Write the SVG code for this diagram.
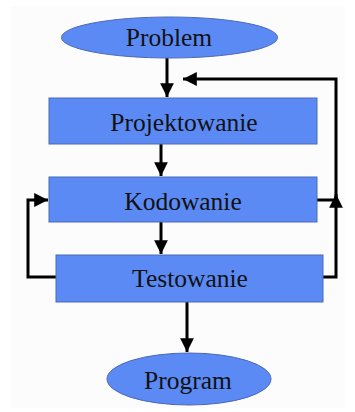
<svg xmlns="http://www.w3.org/2000/svg" width="355" height="412" viewBox="0 0 355 412">
<style>
.n{fill:#5b8af5;stroke:#4a68b5;stroke-width:1}
.t{font-family:"Liberation Serif","Times New Roman",serif;font-size:25.5px;fill:#111;text-anchor:middle}
.c{fill:none;stroke:#000;stroke-width:3}
</style>
<defs>
<marker id="ah" viewBox="0 0 10 10" refX="10" refY="5" markerWidth="4.6" markerHeight="5" markerUnits="strokeWidth" orient="auto">
<path d="M0,0 L10,5 L0,10 Z" fill="#000"/>
</marker>
</defs>
<rect x="0" y="0" width="355" height="412" fill="#fff"/>
<rect x="10" y="6" width="335" height="402" fill="#fcfcfc"/>
<g id="connectors">
<line class="c" x1="167" y1="58" x2="167" y2="97" marker-end="url(#ah)"/>
<polyline class="c" points="336,200 336,79 183,79" marker-end="url(#ah)"/>
<line class="c" x1="161" y1="144" x2="161" y2="176" marker-end="url(#ah)"/>
<line class="c" x1="161" y1="222" x2="161" y2="254" marker-end="url(#ah)"/>
<polyline class="c" points="56,277 28,277 28,200 48,200" marker-end="url(#ah)"/>
<line class="c" x1="317" y1="200" x2="336" y2="200"/>
<polyline class="c" points="323,277 336,277 336,194" marker-end="url(#ah)"/>
<line class="c" x1="187" y1="302" x2="187" y2="352" marker-end="url(#ah)"/>
</g>
<g id="problem">
<ellipse class="n" cx="169.5" cy="37.5" rx="108" ry="20.5"/>
<text class="t" x="169" y="46">Problem</text>
</g>
<g id="projektowanie">
<rect class="n" x="49" y="98" width="268" height="46"/>
<text class="t" x="184" y="131">Projektowanie</text>
</g>
<g id="kodowanie">
<rect class="n" x="49" y="177" width="268" height="45"/>
<text class="t" x="183" y="210">Kodowanie</text>
</g>
<g id="testowanie">
<rect class="n" x="56" y="255" width="267" height="47"/>
<text class="t" x="190" y="287">Testowanie</text>
</g>
<g id="program">
<ellipse class="n" cx="189" cy="379" rx="82" ry="26"/>
<text class="t" x="188" y="389">Program</text>
</g>
</svg>
